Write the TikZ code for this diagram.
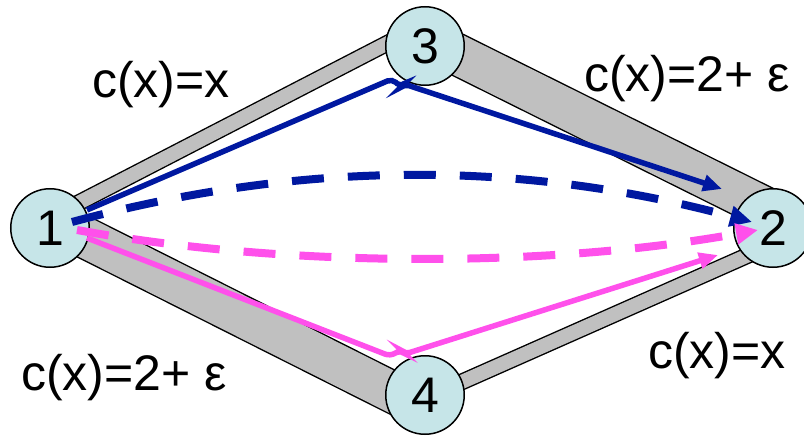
\documentclass[tikz,border=0pt]{standalone}
\usepackage{fontspec}
\setmainfont{Liberation Sans}
\usetikzlibrary{calc, arrows.meta}
\definecolor{nodecyan}{RGB}{198,229,232}
\definecolor{roadgray}{RGB}{192,192,192}
\definecolor{flowblue}{RGB}{0,24,160}
\definecolor{flowpink}{RGB}{255,80,235}

\begin{document}
\begin{tikzpicture}[x=1pt, y=-1pt,
    city/.style={circle, draw, line width=1.5pt, fill=nodecyan, minimum size=78.5pt, inner sep=0pt, font=\fontsize{50}{60}\selectfont},
    cost/.style={anchor=base, inner sep=0pt, font=\fontsize{50}{60}\selectfont},
    thinroad/.style={line width=1.4pt, double=roadgray, double distance=14pt},
    wideroad/.style={line width=1.4pt, double=roadgray, double distance=40pt},
    flow/.style={line width=5.5pt, rounded corners=5pt, -{Triangle[length=19pt, width=16pt]}},
    dashflow/.style={line width=8pt, dash pattern=on 32pt off 24pt, -{Triangle[length=22pt, width=20pt]}}]
  \useasboundingbox (0,0) rectangle (804,436);

  % Node positions
  \coordinate (p1) at (50,228);
  \coordinate (p3) at (425,46);
  \coordinate (p2) at (773,228);
  \coordinate (p4) at (425,395);

  % Roads (gray bands)
  \draw[thinroad] ([shift={(5,-13)}]p1) -- ([shift={(-10,-17)}]p3);
  \draw[wideroad] ([shift={(5,-5)}]p3) -- ([shift={(-3,-18)}]p2);
  \draw[wideroad] ([shift={(10,-3)}]p1) -- ([shift={(-5,11)}]p4);
  \draw[thinroad] ([shift={(5,1)}]p4) -- ([shift={(-13,22)}]p2);

  % Cities
  \node[city] (n1) at (p1) {1};
  \node[city] (n3) at (p3) {3};
  \node[city] (n2) at (p2) {2};
  \node[city] (n4) at (p4) {4};

  % Cost labels
  \node[cost] (c13) at (161,98) {c(x)=x};
  \node[cost] (c32) at (687,92) {c(x)=2+ ε};
  \node[cost] (c14) at (124,390) {c(x)=2+ ε};
  \node[cost] (c42) at (717,368) {c(x)=x};

  % Flows via 3 and 4
  \draw[flowblue, flow] ([shift={(37,-18)}]n1.center) -- (392,79) -- (401,87) -- (404,84) -- ([shift={(-51,-39)}]n2.center);
  \draw[flowpink, flow] ([shift={(37,10)}]n1.center) -- (390,356) -- (401,350) -- (405,354) -- ([shift={(-55,27)}]n2.center);

  % Dashed flows
  \draw[flowblue, dashflow] ([shift={(22,-6)}]n1.center) .. controls (302,160) and (522,160) .. ([shift={(-21,-6)}]n2.center);
  \draw[flowpink, dashflow] ([shift={(27,2)}]n1.center) .. controls (287,268) and (548,268) .. ([shift={(-15,2)}]n2.center);
\end{tikzpicture}
\end{document}
